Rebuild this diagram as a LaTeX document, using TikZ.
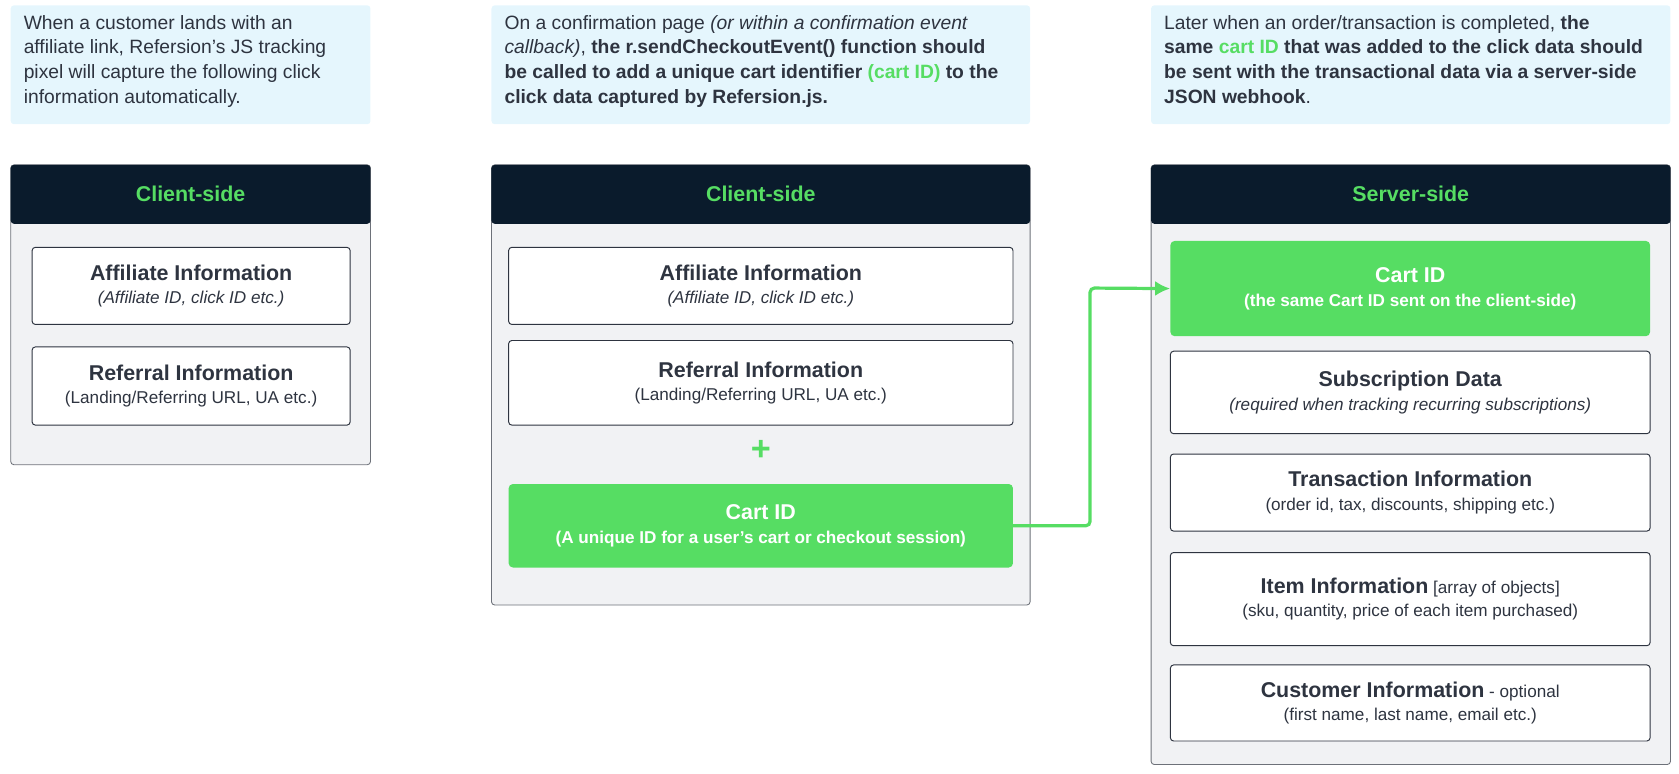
\documentclass[tikz,border=0pt]{standalone}
\usepackage{fontspec}
\setmainfont{Liberation Sans}
\usetikzlibrary{positioning,arrows.meta}
\definecolor{notebg}{HTML}{E5F6FD}
\definecolor{panelbg}{HTML}{F1F2F4}
\definecolor{headbg}{HTML}{0A1B2C}
\definecolor{ink}{HTML}{2E3440}
\definecolor{cartgreen}{HTML}{56DD63}
\tikzset{
  infobox/.style={draw=ink, line width=0.9pt, fill=white, rounded corners=3pt, align=center, text=ink, font=\fontsize{16}{22}\selectfont},
  cartbox/.style={fill=cartgreen, rounded corners=4pt, align=center, text=white, font=\fontsize{16}{22}\selectfont\bfseries},
  notetext/.style={anchor=north west, align=left, text=ink, inner sep=0pt, font=\fontsize{18}{23}\selectfont}
}
\newcommand{\boxtitle}[1]{{\fontsize{20}{24}\selectfont\bfseries #1}}
\newcommand{\greenbf}[1]{\textcolor{cartgreen}{\textbf{#1}}}
\begin{document}
\begin{tikzpicture}[x=1pt, y=-1pt]
  \useasboundingbox (0,0) rectangle (1568,722);
  % Notes on top
  \fill[notebg, rounded corners=3pt] (10,5) rectangle (346,116);
  \node[notetext] (noteA) at (22,14) {When a customer lands with an\\affiliate link, Refersion's JS tracking\\pixel will capture the following click\\information automatically.};
  \fill[notebg, rounded corners=3pt] (459,5) rectangle (962,116);
  \node[notetext] (noteB) at (471,14) {On a confirmation page \textit{(or within a confirmation event}\\\textit{callback)}, \textbf{the r.sendCheckoutEvent() function should}\\\textbf{be called to add a unique cart identifier} \greenbf{(cart ID)} \textbf{to the}\\\textbf{click data captured by Refersion.js.}};
  \fill[notebg, rounded corners=3pt] (1075,5) rectangle (1560,116);
  \node[notetext] (noteC) at (1087,14) {Later when an order/transaction is completed, \textbf{the}\\\textbf{same} \greenbf{cart ID} \textbf{that was added to the click data should}\\\textbf{be sent with the transactional data via a server-side}\\\textbf{JSON webhook}.};

  % Panels
  \foreach \xa/\xb/\yb/\name/\label in {10/346/434/panA/Client-side, 459/962/565/panB/Client-side, 1075/1560/714/panC/Server-side}{
    \filldraw[draw=ink!70, fill=panelbg, rounded corners=3pt, line width=0.8pt] (\xa,154) rectangle (\xb,\yb);
    \fill[headbg, rounded corners=3pt] (\xa,154) rectangle (\xb,209);
    \node[text=cartgreen, font=\fontsize{20}{24}\selectfont\bfseries] (\name) at ({(\xa+\xb)/2},181) {\label};
  }

  % Left panel
  \node[infobox, minimum width=297pt, minimum height=72pt] (affA) at (178.5,267) {\boxtitle{Affiliate Information}\\\textit{(Affiliate ID, click ID etc.)}};
  \node[infobox, minimum width=297pt, minimum height=73pt] (refA) at (178.5,360.5) {\boxtitle{Referral Information}\\(Landing/Referring URL, UA etc.)};

  % Middle panel
  \node[infobox, minimum width=471pt, minimum height=72pt] (affB) at (710.5,267) {\boxtitle{Affiliate Information}\\\textit{(Affiliate ID, click ID etc.)}};
  \node[infobox, minimum width=471pt, minimum height=79pt] (refB) at (710.5,357.5) {\boxtitle{Referral Information}\\(Landing/Referring URL, UA etc.)};
  \node[text=cartgreen, font=\fontsize{32}{32}\selectfont\bfseries] (plus) at (710.5,421) {+};
  \node[cartbox, minimum width=471pt, minimum height=78pt] (cartB) at (710.5,491) {{\fontsize{20}{24}\selectfont Cart ID}\\(A unique ID for a user's cart or checkout session)};

  % Right panel
  \node[cartbox, minimum width=448pt, minimum height=89pt] (cartC) at (1317,269.5) {{\fontsize{20}{24}\selectfont Cart ID}\\(the same Cart ID sent on the client-side)};
  \node[infobox, minimum width=448pt, minimum height=77pt] (subC) at (1317,366.5) {\boxtitle{Subscription Data}\\\textit{(required when tracking recurring subscriptions)}};
  \node[infobox, minimum width=448pt, minimum height=72pt] (transC) at (1317,460) {\boxtitle{Transaction Information}\\(order id, tax, discounts, shipping etc.)};
  \node[infobox, minimum width=448pt, minimum height=87pt] (itemC) at (1317,559.5) {\boxtitle{Item Information} [array of objects]\\(sku, quantity, price of each item purchased)};
  \node[infobox, minimum width=448pt, minimum height=71pt] (custC) at (1317,656.5) {\boxtitle{Customer Information} - optional\\(first name, last name, email etc.)};

  % Connector
  \draw[cartgreen, line width=3pt, rounded corners=4pt, -{Latex[length=14pt, width=14pt]}] (cartB.east) -- (1018,491) -- (1018,269) -- (cartC.west);
\end{tikzpicture}
\end{document}
